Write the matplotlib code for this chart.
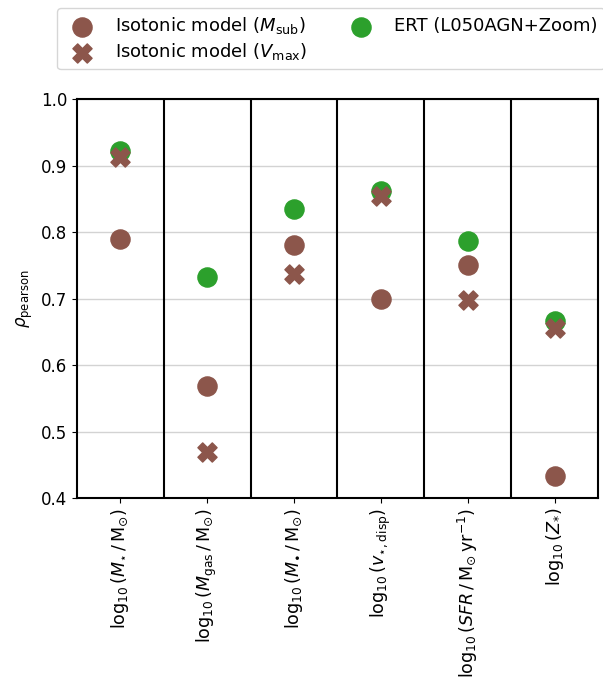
import numpy as np
import matplotlib.pyplot as plt

labels = [r"$\log_{10}(M_{\star}\,/\,\mathrm{M}_{\odot})$",
          r"$\log_{10}(M_{\rm gas}\,/\,\mathrm{M}_{\odot})$",
          r"$\log_{10}(M_{\bullet}\,/\,\mathrm{M}_{\odot})$",
          r"$\log_{10}(v_{\star,\rm disp})$",
          r"$\log_{10}(SFR\,/\,\mathrm{M}_{\odot}\,\mathrm{yr}^{-1})$",
          r"$\log_{10}(Z_{*})$"]
iso_msub = [0.789, 0.568, 0.780, 0.699, 0.750, 0.433]
iso_vmax = [0.913, 0.469, 0.737, 0.854, 0.698, 0.656]
ert = [0.922, 0.732, 0.835, 0.862, 0.786, 0.666]

plt.rcParams['font.size'] = 12

fig = plt.figure(figsize=(6.03, 6.8), dpi=100)
ax = fig.add_axes([0.1277, 0.2676, 0.8640, 0.5868])

x = np.arange(len(labels))
ax.scatter(x, iso_msub, s=190, marker='o', color='tab:brown', label=r'Isotonic model ($M_{\rm sub}$)', zorder=3)
ax.scatter(x, iso_vmax, s=190, marker='X', color='tab:brown', label=r'Isotonic model ($V_{\rm max}$)', zorder=5)
ax.scatter(x, ert, s=190, marker='o', color='tab:green', label='ERT (L050AGN+Zoom)', zorder=4)

for b in np.arange(0.5, len(labels) - 0.5):
    ax.axvline(b, color='black', lw=1.5, zorder=2)
ax.yaxis.grid(True, color='lightgray', lw=1, zorder=0)

ax.set_xlim(-0.5, len(labels) - 0.5)
ax.set_ylim(0.4, 1.0)
ax.set_xticks(x)
ax.set_xticklabels(labels, rotation=90, fontsize=12.6)
ax.set_ylabel(r'$\rho_{\rm pearson}$')
for s in ax.spines.values():
    s.set_linewidth(1.5)

fig.legend(loc='upper left', bbox_to_anchor=(0.0945, 0.988), ncol=2, fontsize=13,
           labelspacing=0.27, borderaxespad=0)

fig.savefig('out.png', dpi=100)
